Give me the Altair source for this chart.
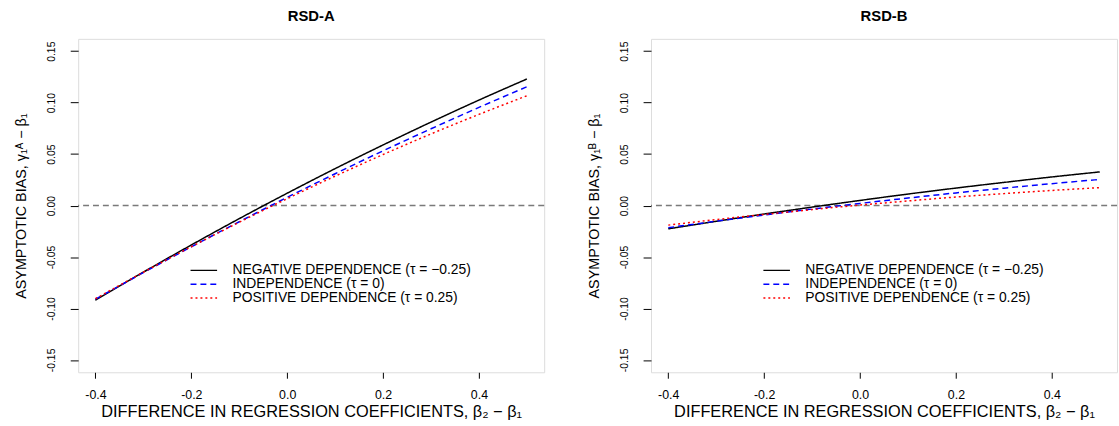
import altair as alt
import pandas as pd

# ---- data ----
x_vals = [-0.4, -0.3, -0.2, -0.1, 0.0, 0.1, 0.2, 0.3, 0.4, 0.5]

# RSD-A panel
a_neg = [-0.0920, -0.0647, -0.0383, -0.0127, 0.0120, 0.0359, 0.0589, 0.0811, 0.1025, 0.1230]
a_ind = [-0.0910, -0.0652, -0.0401, -0.0157, 0.0080, 0.0309, 0.0532, 0.0746, 0.0954, 0.1154]
a_pos = [-0.0905, -0.0648, -0.0400, -0.0162, 0.0067, 0.0286, 0.0496, 0.0696, 0.0886, 0.1067]

# RSD-B panel
b_neg = [-0.0226, -0.0153, -0.0082, -0.0015, 0.0050, 0.0112, 0.0170, 0.0225, 0.0278, 0.0327]
b_ind = [-0.0215, -0.0152, -0.0092, -0.0034, 0.0021, 0.0073, 0.0123, 0.0169, 0.0213, 0.0254]
b_pos = [-0.0190, -0.0136, -0.0086, -0.0039, 0.0005, 0.0045, 0.0083, 0.0116, 0.0147, 0.0174]

series = [
    "NEGATIVE DEPENDENCE (τ = −0.25)",
    "INDEPENDENCE (τ = 0)",
    "POSITIVE DEPENDENCE (τ = 0.25)",
]
colors = ["#000000", "#0000ff", "#ff0000"]
dashes = [[1, 0], [6, 4], [2, 3]]

x_ticks = [-0.4, -0.2, 0.0, 0.2, 0.4]
y_ticks = [-0.15, -0.10, -0.05, 0.0, 0.05, 0.10, 0.15]

FONT = "Liberation Sans"
W, H = 471, 337


def signed(fmt):
    return (f"datum.value < 0 ? '-' + format(-datum.value, '{fmt}') "
            f": format(datum.value, '{fmt}')")


def panel(ys, title, ytitle):
    df = pd.DataFrame({
        "x": x_vals * 3,
        "y": ys[0] + ys[1] + ys[2],
        "s": [s for s in series for _ in x_vals],
    })
    xs = alt.Scale(domain=[-0.436, 0.536], nice=False, zero=False)
    yscale = alt.Scale(domain=[-0.162, 0.162], nice=False, zero=False)

    legend = alt.Legend(
        title=None, orient="none", legendX=120, legendY=227,
        symbolType="M-6,0H6", symbolSize=20, symbolStrokeWidth=1.5,
        labelFont=FONT, labelFontSize=14, labelColor="black", labelLimit=0,
        labelOffset=22, rowPadding=-2, padding=0,
        symbolOpacity=1,
    )

    zero = alt.Chart(pd.DataFrame({"z": [0.0]})).mark_rule(
        color="#7a7a7a", strokeDash=[6, 4], strokeWidth=1.5
    ).encode(y=alt.Y("z:Q", scale=yscale))

    lines = alt.Chart(df).mark_line(strokeWidth=1.5, interpolate="monotone").encode(
        x=alt.X("x:Q", scale=xs, axis=alt.Axis(
            values=x_ticks, labelExpr=signed(".1f"),
            title="DIFFERENCE IN REGRESSION COEFFICIENTS,  β₂ − β₁",
            titleFont=FONT, titleFontSize=16.5, titleFontWeight="normal",
            titleColor="black", titleY=40, titleBaseline="middle",
            labelFont=FONT, labelFontSize=12.5, labelColor="black",
            tickColor="black", tickSize=6, labelPadding=11,
            domain=False, grid=False,
        )),
        y=alt.Y("y:Q", scale=yscale, axis=alt.Axis(
            values=y_ticks, labelExpr=signed(".2f"),
            labelAngle=270, labelAlign="center", labelBaseline="bottom",
            title=ytitle,
            titleFont=FONT, titleFontSize=14.5, titleFontWeight="normal",
            titleColor="black", titleX=-57, titleBaseline="middle",
            labelFont=FONT, labelFontSize=10.5, labelColor="black",
            tickColor="black", tickSize=8, labelPadding=14,
            domain=False, grid=False,
        )),
        color=alt.Color("s:N", scale=alt.Scale(domain=series, range=colors),
                        legend=legend),
        strokeDash=alt.StrokeDash("s:N", scale=alt.Scale(domain=series, range=dashes),
                                  legend=legend),
    )

    return alt.layer(zero, lines).properties(
        width=W, height=H,
        title=alt.TitleParams(title, font=FONT, fontSize=15, fontWeight="bold",
                              color="black", anchor="middle", offset=3,
                              baseline="alphabetic"),
    )


left = panel([a_neg, a_ind, a_pos], "RSD-A", "ASYMPTOTIC BIAS,  γ₁ᴬ − β₁")
right = panel([b_neg, b_ind, b_pos], "RSD-B", "ASYMPTOTIC BIAS,  γ₁ᴮ − β₁")

chart = alt.hconcat(left, right, spacing=108, bounds="flush").resolve_scale(
    color="independent", strokeDash="independent"
).resolve_legend(
    color="independent", strokeDash="independent"
).properties(
    padding={"left": 13, "top": 6, "right": 0, "bottom": 0},
    background="white",
).configure_view(stroke="#222222", strokeWidth=1).configure(font=FONT)

chart.save("out.html", embed_options={"renderer": "svg", "actions": False})
